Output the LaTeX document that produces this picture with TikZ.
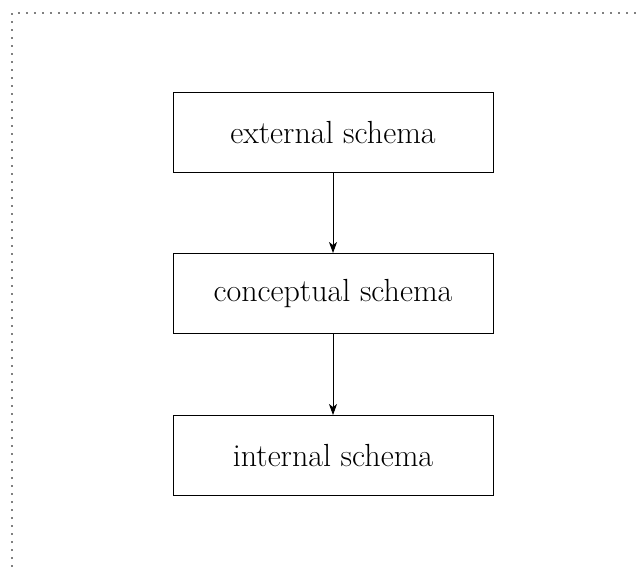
\documentclass[tikz,border=0pt]{standalone}
\usepackage{tikz}
\usetikzlibrary{positioning,arrows,arrows.meta}

\begin{document}
\begin{tikzpicture}[x=1pt,y=-1pt]
\tikzstyle{schema}=[draw=black, line width=0.9pt, minimum width=320pt, minimum height=80pt, inner sep=0pt, font=\fontsize{32}{38}\selectfont]
\tikzstyle{flow}=[-{Stealth[length=11pt,width=8pt,inset=3pt]}, line width=0.9pt, black]
\useasboundingbox (0,0) rectangle (640,569);
\draw [gray, line width=1.6pt, dash pattern=on 1.6pt off 6.4pt] (12,567) -- (12,13) -- (640,13);
\node [schema] (ext) at (333,132.5) {external schema};
\node [schema] (con) at (333,293.5) {conceptual schema};
\node [schema] (int) at (333,455.5) {internal schema};
\draw [flow] (ext) -- (con);
\draw [flow] (con) -- (int);
\end{tikzpicture}
\end{document}
